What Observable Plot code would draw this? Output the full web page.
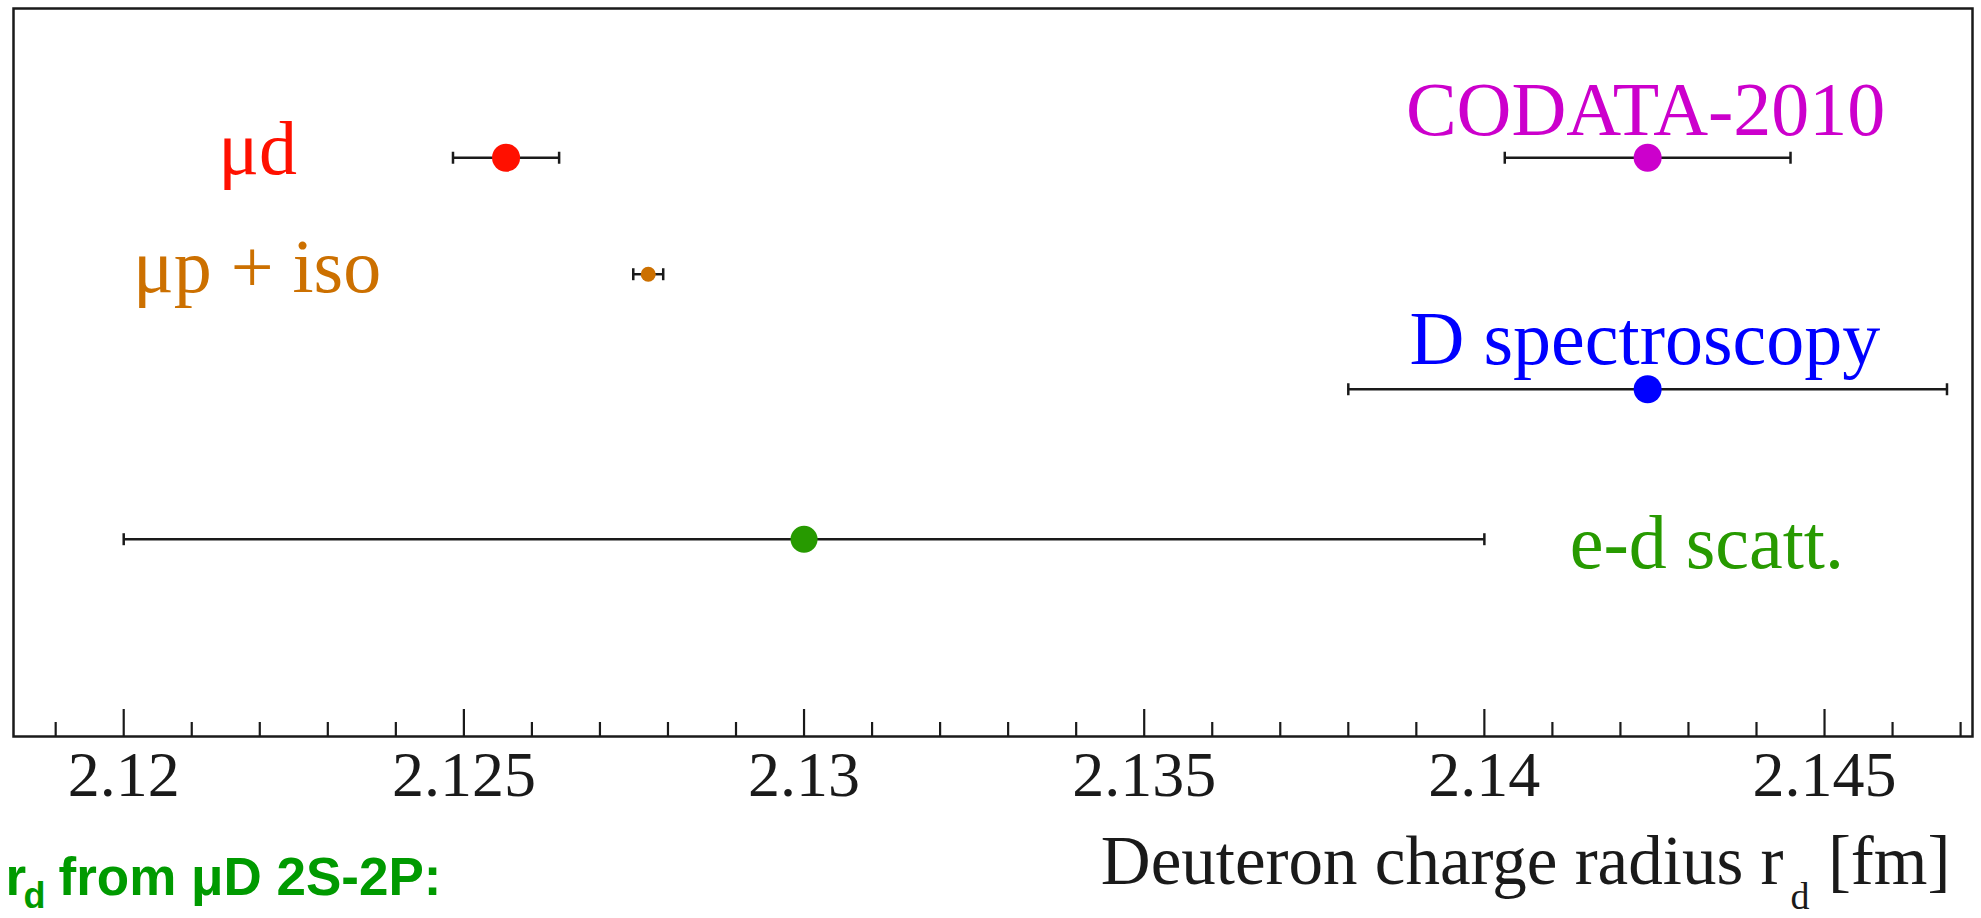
<!DOCTYPE html>
<html><head><meta charset="utf-8">
<script src="https://cdn.jsdelivr.net/npm/d3@7"></script>
<script src="https://cdn.jsdelivr.net/npm/@observablehq/plot@0.6"></script>
<style>html,body{margin:0;padding:0;background:#fff;} #chart svg{display:block;}</style>
</head><body><div id="chart"></div>
<script>
// ---- data ----
const names = ["μd", "μp + iso", "CODATA-2010", "D spectroscopy", "e-d scatt."];
const values = [2.12562, 2.12771, 2.1424, 2.1424, 2.130];   // r_d [fm]
const errors = [0.00078, 0.00022, 0.0021, 0.0044, 0.010];  // 1 sigma [fm]
const rows = [7.95, 6.35, 7.95, 4.77, 2.71];                // vertical slot of each result
const labelX = [2.12197, 2.12196, 2.14237, 2.14236, 2.14327];
const labelY = [7.73, 6.10, 8.26, 5.12, 2.32];
const majorTicks = [2.12, 2.125, 2.13, 2.135, 2.14, 2.145];
const tickLabels = ["2.12", "2.125", "2.13", "2.135", "2.14", "2.145"];
const minorTicks = [2.119, 2.121, 2.122, 2.123, 2.124, 2.126, 2.127, 2.128, 2.129, 2.131, 2.132, 2.133, 2.134,
                    2.136, 2.137, 2.138, 2.139, 2.141, 2.142, 2.143, 2.144, 2.146, 2.147];
const axisTitle = ["Deuteron charge radius r", "d", "[fm]"];
const captionParts = ["r", "d", "from μD 2S-2P:"];

// ---- styles ----
const palette = {
  "μd": "#ff1000",
  "μp + iso": "#cc7000",
  "CODATA-2010": "#cc00cc",
  "D spectroscopy": "#0000ff",
  "e-d scatt.": "#279a00"
};
const dotRadius = {"μd": 14, "μp + iso": 7.5, "CODATA-2010": 14, "D spectroscopy": 14, "e-d scatt.": 13.5};
const ink = "#1a1a1a";
const serif = "'Liberation Serif', 'Times New Roman', serif";
const sans = "'Liberation Sans', Arial, sans-serif";
const green = "#009a00";

const table = names.map((name, i) => ({
  name, value: values[i], err: errors[i], row: rows[i],
  lo: values[i] - errors[i], hi: values[i] + errors[i],
  lx: labelX[i], ly: labelY[i]
}));
const caps = table.flatMap(d => [{x: d.lo, y: d.row}, {x: d.hi, y: d.row}]);
const capSymbol = {draw(ctx, size) { const r = Math.sqrt(size / Math.PI); ctx.moveTo(0, -r); ctx.lineTo(0, r); }};

const chart = Plot.plot({
  width: 1981, height: 918,
  marginTop: 8, marginBottom: 182, marginLeft: 13, marginRight: 9,
  x: {domain: [2.11838, 2.147175], axis: null},
  y: {domain: [0, 10], axis: null},
  color: {type: "identity"},
  r: {type: "identity"},
  style: {background: "white", overflow: "visible"},
  marks: [
    Plot.tickX(minorTicks, {x: d => d, insetTop: 714, stroke: ink, strokeWidth: 2.2}),
    Plot.tickX(majorTicks, {x: d => d, insetTop: 701, stroke: ink, strokeWidth: 2.2}),
    Plot.text(majorTicks, {x: d => d, text: (d, i) => tickLabels[i], frameAnchor: "bottom", dy: 59, lineAnchor: "bottom",
      textAnchor: "middle", fontSize: 64, fontFamily: serif, fill: ink}),
    Plot.frame({stroke: ink, strokeWidth: 2.5}),
    Plot.ruleY(table, {y: "row", x1: "lo", x2: "hi", stroke: ink, strokeWidth: 2.5}),
    Plot.dot(caps, {x: "x", y: "y", symbol: capSymbol, r: 6, fill: "none", stroke: ink, strokeWidth: 2.5}),
    Plot.dot(table, {x: "value", y: "row", r: d => dotRadius[d.name], fill: d => palette[d.name], stroke: null}),
    Plot.text(table, {x: "lx", y: "ly", text: "name", fill: d => palette[d.name], textAnchor: "middle",
      lineAnchor: "bottom", fontSize: 76, fontFamily: serif}),
    // axis title
    Plot.text([axisTitle[0]], {text: d => d, frameAnchor: "bottom-right", dx: -189, dy: 147, textAnchor: "end",
      lineAnchor: "bottom", fontSize: 69, fontFamily: serif, fill: ink}),
    Plot.text([axisTitle[1]], {text: d => d, frameAnchor: "bottom-right", dx: -182, dy: 172, textAnchor: "start",
      lineAnchor: "bottom", fontSize: 38, fontFamily: serif, fill: ink}),
    Plot.text([axisTitle[2]], {text: d => d, frameAnchor: "bottom-right", dx: -22, dy: 147, textAnchor: "end",
      lineAnchor: "bottom", fontSize: 69, fontFamily: serif, fill: ink}),
    // caption
    Plot.text([captionParts[0]], {text: d => d, frameAnchor: "bottom-left", dx: -8, dy: 158, textAnchor: "start",
      lineAnchor: "bottom", fontSize: 53, fontWeight: "bold", fontFamily: sans, fill: green}),
    Plot.text([captionParts[1]], {text: d => d, frameAnchor: "bottom-left", dx: 10, dy: 171, textAnchor: "start",
      lineAnchor: "bottom", fontSize: 36, fontWeight: "bold", fontFamily: sans, fill: green}),
    Plot.text([captionParts[2]], {text: d => d, frameAnchor: "bottom-left", dx: 45, dy: 158, textAnchor: "start",
      lineAnchor: "bottom", fontSize: 53, fontWeight: "bold", fontFamily: sans, fill: green})
  ]
});
document.getElementById("chart").appendChild(chart);
</script>
</body></html>
